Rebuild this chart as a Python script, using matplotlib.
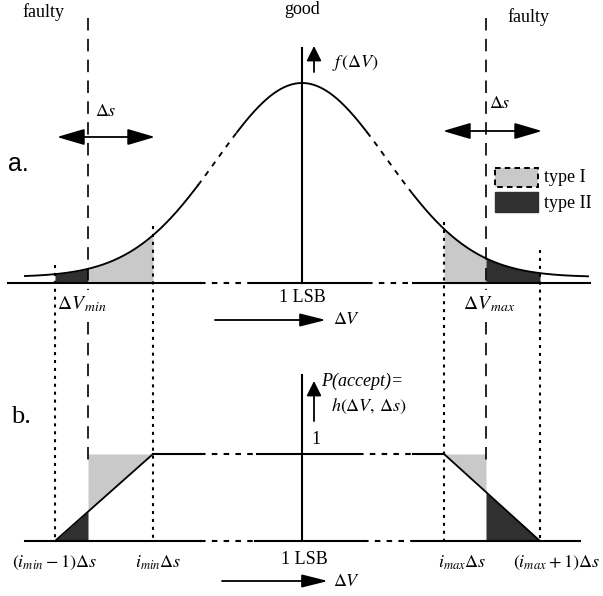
import numpy as np
import matplotlib.pyplot as plt
from matplotlib.patches import Rectangle

plt.rcParams['font.family'] = ['Liberation Serif', 'DejaVu Serif']
plt.rcParams['mathtext.fontset'] = 'stix'
plt.rcParams['lines.scale_dashes'] = False

# diagram layout, in pixels of the 603x596 page (y runs downward)
mu, sigma, peak, tail_y = 302, 85, 194, 277     # gaussian f(dV)
base_a, base_b, level_b = 283, 541, 454         # baselines of a. and b., level "1" in b.
x_dv_min, x_dv_max = 88, 486                    # long dashed thresholds
x_lim = [55, 153, 444, 540]                     # dotted lines (i-1)ds, i ds ...
lim_top = [265, 226, 222, 250]                  # where the dotted lines start

curve_solid = [(25, 198), (237, 367), (413, 588)]
curve_dash = [(198, 237), (367, 413)]
base_a_solid = [(8, 200), (252, 367), (413, 590)]
base_a_dash = [(200, 252), (367, 413)]
base_b_solid = [(25, 200), (255, 363), (413, 580)]
base_b_dash = [(200, 255), (363, 413)]
level_solid = [(153, 200), (257, 358), (413, 444)]
level_dash = [(200, 257), (358, 413)]

light = '#c9c9c9'
dark = '#303030'


def f(x):
    return tail_y - peak * np.exp(-(x - mu) ** 2 / (2 * sigma ** 2))


def h(x):
    # acceptance ramp: 0 -> 1 -> 1 -> 0
    return np.interp(x, [x_lim[0], x_lim[1], x_lim[2], x_lim[3]],
                     [base_b, level_b, level_b, base_b])


fig = plt.figure(figsize=(6.03, 5.96), dpi=100)
ax = fig.add_axes([0, 0, 1, 1])
ax.set_xlim(0, 603)
ax.set_ylim(596, 0)
ax.axis('off')

dashed = (0, (4, 4.5))
lw = 1.5

# ---- panel a ----
for a, b in curve_solid:
    xs = np.linspace(a, b, 200)
    ax.plot(xs, f(xs), color='k', lw=1.35)
for a, b in curve_dash:
    xs = np.linspace(a, b, 100)
    ax.plot(xs, f(xs), color='k', lw=1.35, linestyle=dashed)
for a, b in base_a_solid:
    ax.plot([a, b], [base_a, base_a], color='k', lw=lw)
for a, b in base_a_dash:
    ax.plot([a, b], [base_a, base_a], color='k', lw=lw, linestyle=dashed)

for (a, b), c in zip([(x_lim[0], x_dv_min), (x_dv_min, x_lim[1]),
                      (x_lim[2], x_dv_max), (x_dv_max, x_lim[3])],
                     [dark, light, light, dark]):
    xs = np.linspace(a, b, 60)
    ax.fill_between(xs, f(xs), base_a, color=c, lw=0)

ax.plot([mu, mu], [48, base_a], color='k', lw=lw)

# ---- panel b ----
for a, b in base_b_solid:
    ax.plot([a, b], [base_b, base_b], color='k', lw=lw)
for a, b in base_b_dash:
    ax.plot([a, b], [base_b, base_b], color='k', lw=lw, linestyle=dashed)
for a, b in level_solid:
    ax.plot([a, b], [level_b, level_b], color='k', lw=lw)
for a, b in level_dash:
    ax.plot([a, b], [level_b, level_b], color='k', lw=lw, linestyle=dashed)
ax.plot(x_lim[:2], [base_b, level_b], color='k', lw=1.3)
ax.plot(x_lim[2:], [level_b, base_b], color='k', lw=1.3)

xs = np.linspace(x_lim[0], x_dv_min, 40)
ax.fill_between(xs, h(xs), base_b, color=dark, lw=0)
xs = np.linspace(x_dv_min, x_lim[1], 40)
ax.fill_between(xs, level_b, h(xs), color=light, lw=0)
xs = np.linspace(x_lim[2], x_dv_max, 40)
ax.fill_between(xs, level_b, h(xs), color=light, lw=0)
xs = np.linspace(x_dv_max, x_lim[3], 40)
ax.fill_between(xs, h(xs), base_b, color=dark, lw=0)

ax.plot([mu, mu], [375, base_b], color='k', lw=lw)

# ---- vertical guide lines ----
for x in [x_dv_min, x_dv_max]:
    ax.plot([x, x], [18, 290], color='k', lw=1.2, linestyle=(0, (9, 6)))
    ax.plot([x, x], [322, level_b + 6], color='k', lw=1.2, linestyle=(0, (9, 6)))
for x, y0 in zip(x_lim, lim_top):
    ax.plot([x, x], [y0, base_b], color='k', lw=1.5, linestyle=(0, (2.2, 3.5)))

# ---- arrows ----
def arrow(x0, y0, x1, y1, style):
    ax.annotate('', xy=(x1, y1), xytext=(x0, y0),
                arrowprops=dict(arrowstyle=style, color='k', lw=1.3,
                                shrinkA=0, shrinkB=0, mutation_scale=10))

arrow(57, 137, 155, 137, '<|-|>,head_length=1.7,head_width=0.5')
arrow(443, 131, 542, 131, '<|-|>,head_length=1.7,head_width=0.5')
arrow(314, 72, 314, 46, '-|>,head_length=0.9,head_width=0.45')
arrow(314, 421, 314, 381, '-|>,head_length=0.9,head_width=0.45')
arrow(215, 320, 326, 320, '-|>,head_length=1.6,head_width=0.4')
arrow(222, 581, 328, 581, '-|>,head_length=1.6,head_width=0.4')

# ---- legend ----
ax.add_patch(Rectangle((495, 168), 43, 19, facecolor=light, edgecolor='k',
                       lw=1.4, linestyle=(0, (4, 3))))
ax.add_patch(Rectangle((495, 192), 43, 20, facecolor=dark, edgecolor=dark, lw=1))
ax.text(544, 178, 'type I', fontsize=13, va='center', ha='left')
ax.text(544, 203, 'type II', fontsize=13, va='center', ha='left')

# ---- labels ----
fs = 13
ax.text(43, 12, 'faulty', fontsize=fs, ha='center', va='center')
ax.text(302, 9, 'good', fontsize=fs, ha='center', va='center')
ax.text(528, 17, 'faulty', fontsize=fs, ha='center', va='center')
ax.text(106, 112, r'$\Delta s$', fontsize=fs, ha='center', va='center')
ax.text(500, 104, r'$\Delta s$', fontsize=fs, ha='center', va='center')
ax.text(18, 164, 'a.', fontsize=18, ha='center', va='center', family='Liberation Sans')
ax.text(21, 417, 'b.', fontsize=19, ha='center', va='center')
ax.text(332, 63, r'$f\,(\Delta V)$', fontsize=fs, ha='left', va='center')

ax.text(57, 304, r'$\Delta V_{\,min}$', fontsize=14, ha='left', va='center')
ax.text(463, 304, r'$\Delta V_{\,max}$', fontsize=14, ha='left', va='center')
ax.text(302, 297, '1 LSB', fontsize=fs, ha='center', va='center')
ax.text(333, 320, r'$\Delta V$', fontsize=fs, ha='left', va='center')

ax.text(321, 381, 'P(accept)=', fontsize=fs, style='italic', ha='left', va='center')
ax.text(331, 406, r'$h(\Delta V,\,\Delta s)$', fontsize=fs, ha='left', va='center')
ax.text(316, 440, '1', fontsize=fs, ha='center', va='center')

ax.text(54, 563, r'$(i_{min}-1)\Delta s$', fontsize=fs, ha='center', va='center')
ax.text(158, 563, r'$i_{min}\Delta s$', fontsize=fs, ha='center', va='center')
ax.text(304, 559, '1 LSB', fontsize=fs, ha='center', va='center')
ax.text(462, 563, r'$i_{max}\Delta s$', fontsize=fs, ha='center', va='center')
ax.text(556, 563, r'$(i_{max}+1)\Delta s$', fontsize=fs, ha='center', va='center')
ax.text(333, 581, r'$\Delta V$', fontsize=fs, ha='left', va='center')

fig.savefig('out.png', dpi=100)
